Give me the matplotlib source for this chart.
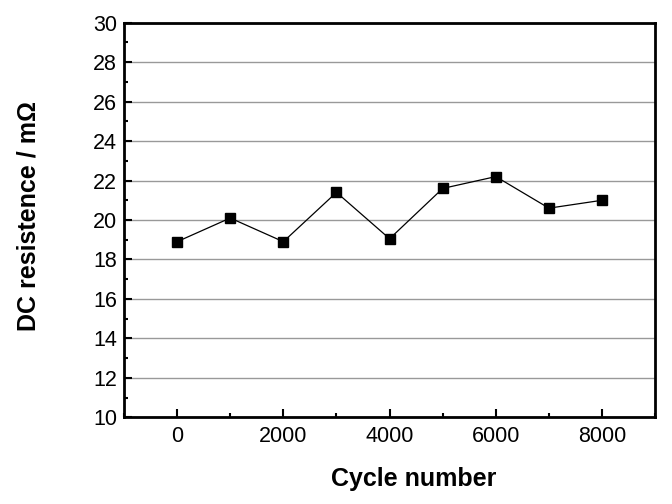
import matplotlib
matplotlib.use("Agg")
import matplotlib.pyplot as plt
from matplotlib.ticker import MultipleLocator

plt.rcParams['font.family'] = ['Liberation Sans', 'DejaVu Sans']

# valores
cycles = [0, 1000, 2000, 3000, 4000, 5000, 6000, 7000, 8000]
resistance = [18.9, 20.1, 18.9, 21.4, 19.05, 21.6, 22.2, 20.6, 21.0]

fig = plt.figure(figsize=(6.72, 5.04), dpi=100)
ax = fig.add_axes([0.1845, 0.172, 0.7905, 0.783])

ax.plot(cycles, resistance, '-s', color='black', lw=0.9, markersize=7)

ax.set_xlim(-1000, 9000)
ax.set_ylim(10, 30)
ax.xaxis.set_major_locator(MultipleLocator(2000))
ax.xaxis.set_minor_locator(MultipleLocator(1000))
ax.yaxis.set_major_locator(MultipleLocator(2))
ax.yaxis.set_minor_locator(MultipleLocator(1))
ax.yaxis.grid(True, which='major', color='#999999', lw=1)
ax.set_axisbelow(True)

ax.tick_params(which='both', direction='in', width=1.5, labelsize=15.5)
ax.tick_params(which='major', length=6)
ax.tick_params(which='minor', length=3)
ax.tick_params(axis='x', pad=6)
ax.tick_params(axis='y', pad=5)
for s in ax.spines.values():
    s.set_linewidth(2)

# etiquetas colocadas a mano como en la original
fig.text(0.616, 0.05, "Cycle number", fontsize=18, fontweight='bold', ha='center', va='center')
fig.text(0.043, 0.571, "DC resistence / m\u03a9", fontsize=18, fontweight='bold',
         ha='center', va='center', rotation=90)

plt.savefig("out.png", dpi=100)
